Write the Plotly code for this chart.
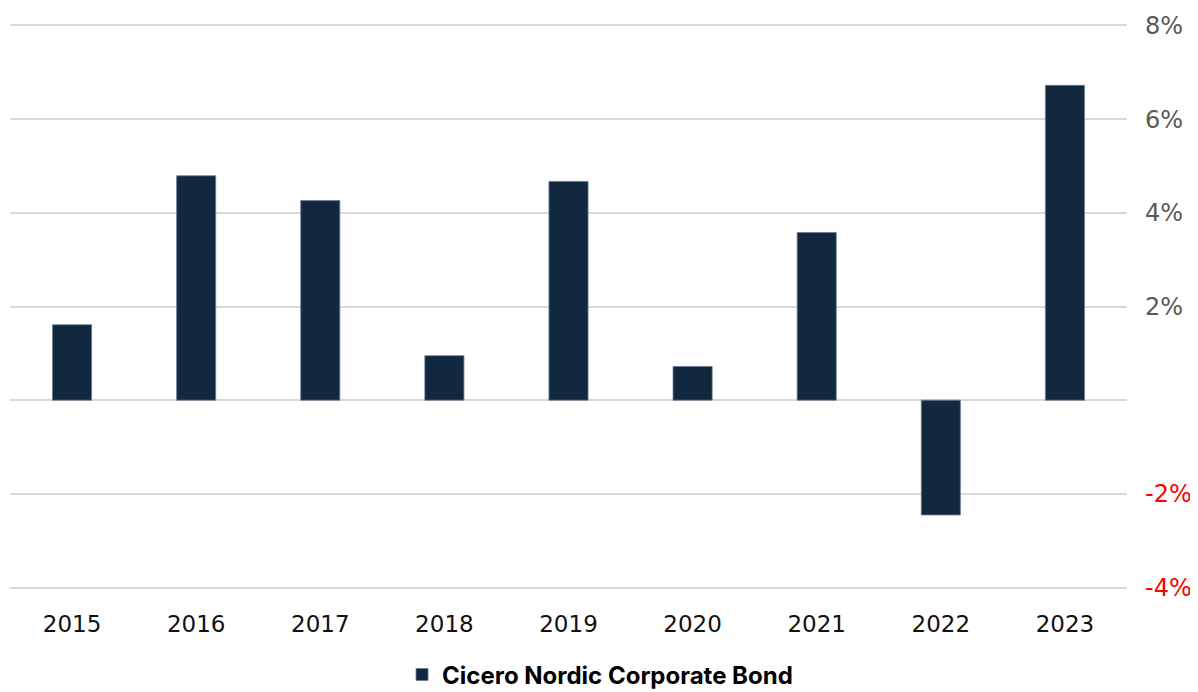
import plotly.graph_objects as go

years = ["2015", "2016", "2017", "2018", "2019", "2020", "2021", "2022", "2023"]
returns = [1.61, 4.79, 4.26, 0.95, 4.67, 0.72, 3.58, -2.45, 6.72]
series_name = "Cicero Nordic Corporate Bond"
y_tickvals = [-4, -2, 0, 2, 4, 6, 8]
y_ticktext = ["<span style='color:#ff0000'>-4%</span>", "<span style='color:#ff0000'>-2%</span>", "",
              "2%", "4%", "6%", "8%"]

fig = go.Figure()
fig.add_trace(go.Bar(
    x=years, y=returns, name=series_name,
    marker=dict(color="#12283f", line=dict(color="#6b7a8f", width=0.8)),
    showlegend=True,
))

fig.update_layout(
    width=1190, height=684,
    margin=dict(l=2, r=71, t=16, b=103, autoexpand=False),
    paper_bgcolor="white", plot_bgcolor="white",
    bargap=0.685,
    font=dict(family="DejaVu Sans", size=20, color="#000000"),
    legend=dict(
        orientation="h", xref="container", yref="container",
        x=0.4975, xanchor="center", y=0.025, yanchor="middle",
        font=dict(family="Inter", size=24, color="#000000", weight=700),
    ),
    xaxis=dict(
        showgrid=False, zeroline=False, showline=False,
        tickfont=dict(family="DejaVu Sans", size=23, color="#111111"),
        ticks="", ticklabelstandoff=19,
    ),
    yaxis=dict(
        side="right", range=[-4.03, 8.03],
        tickvals=y_tickvals, ticktext=y_ticktext,
        showgrid=True, gridcolor="#d9d9d9", gridwidth=2,
        zeroline=True, zerolinecolor="#d9d9d9", zerolinewidth=2,
        tickfont=dict(family="DejaVu Sans", size=24, color="#595959"),
        ticks="", ticklabelstandoff=17,
    ),
)

fig.write_html("out.html")
